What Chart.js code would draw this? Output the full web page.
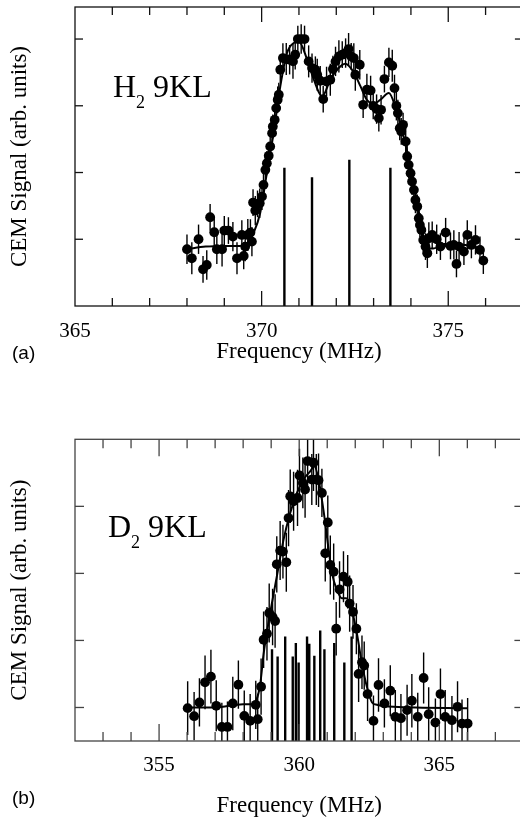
<!DOCTYPE html>
<html>
<head>
<meta charset="utf-8">
<script src="https://cdn.jsdelivr.net/npm/chart.js@4.4.1/dist/chart.umd.min.js"></script>
<style>
  html, body { margin:0; padding:0; background:#fff; overflow:hidden; width:520px; height:827px; }
  canvas { position:absolute; left:0; }
  #ca { top:0; }
  #cb { top:400px; }
  .lbl { position:absolute; font-family:'Liberation Sans', Arial, sans-serif; font-size:19px; color:#000; line-height:1; }
  .mol { position:absolute; font-family:'Liberation Serif', 'Times New Roman', serif; font-size:32px; color:#000; line-height:1; white-space:nowrap; }
  .mol span { font-size:18px; position:relative; top:11px; }
</style>
</head>
<body>
<canvas id="ca" width="540" height="400" style="width:540px;height:400px"></canvas>
<canvas id="cb" width="540" height="427" style="width:540px;height:427px"></canvas>
<div class="mol" style="left:113px; top:70px;">H<span>2</span> 9KL</div>
<div class="mol" style="left:108px; top:510px;">D<span>2</span> 9KL</div>
<div class="lbl" style="left:12px; top:343px;">(a)</div>
<div class="lbl" style="left:12px; top:788px;">(b)</div>
<script>
// ---------- Panel (a): H2 9KL ----------
const freqA = [
 368.00,368.13,368.31,368.43,368.53,368.62,368.73,368.80,368.94,369.00,
 369.11,369.23,369.34,369.47,369.52,369.56,369.63,369.70,369.74,369.77,
 369.83,369.89,369.95,370.01,370.05,370.10,370.14,370.19,370.23,370.28,
 370.30,370.35,370.39,370.43,370.46,370.50,370.57,370.66,370.75,370.84,
 370.90,370.97,371.06,371.15,371.26,371.35,371.44,371.49,371.57,371.65,
 371.74,371.84,371.91,371.98,372.07,372.16,372.25,372.33,372.40,372.47,
 372.51,372.63,372.72,372.82,372.92,372.99,373.08,373.14,373.20,373.29,
 373.41,373.50,373.56,373.61,373.65,373.70,373.74,373.79,373.86,373.90,
 373.94,373.99,374.03,374.08,374.12,374.17,374.21,374.24,374.28,374.33,
 374.39,374.44,374.48,374.57,374.69,374.79,374.93,375.06,375.15,375.22,
 375.29,375.42,375.51,375.62,375.73,375.85,375.94
];
const signalA = [
 0.85,0.715,1.00,0.55,0.615,1.33,1.105,0.85,0.85,1.13,
 1.13,1.04,0.715,1.065,0.75,0.89,1.065,1.10,0.965,1.55,
 1.43,1.53,1.54,1.64,1.815,2.04,2.14,2.25,2.39,2.59,
 2.69,2.79,2.965,3.09,3.165,3.54,3.715,3.70,3.69,3.665,
 3.765,4.00,4.00,4.00,3.665,3.565,3.54,3.465,3.375,3.10,
 3.365,3.39,3.55,3.665,3.74,3.765,3.79,3.85,3.74,3.715,
 3.465,3.615,3.015,3.24,3.23,3.00,2.95,2.815,2.94,3.40,
 3.65,3.60,3.265,3.00,2.89,2.665,2.615,2.715,2.465,2.24,
 2.115,1.99,1.865,1.74,1.59,1.49,1.315,1.215,1.14,0.99,
 0.89,0.79,1.015,1.065,1.00,0.89,1.10,0.90,0.915,0.63,
 0.89,0.815,1.065,0.915,0.99,0.84,0.68
];
const errorA = [
 0.22,0.24,0.22,0.20,0.22,0.20,0.24,0.22,0.26,0.22,
 0.20,0.22,0.24,0.22,0.20,0.22,0.24,0.20,0.22,0.20,
 0.22,0.20,0.22,0.20,0.18,0.20,0.18,0.20,0.18,0.20,
 0.18,0.20,0.18,0.20,0.18,0.20,0.22,0.24,0.22,0.26,
 0.22,0.20,0.22,0.20,0.24,0.22,0.20,0.24,0.22,0.20,
 0.22,0.24,0.20,0.22,0.24,0.20,0.22,0.24,0.20,0.22,
 0.24,0.22,0.20,0.24,0.22,0.20,0.22,0.20,0.22,0.20,
 0.22,0.24,0.20,0.22,0.20,0.18,0.20,0.18,0.20,0.18,
 0.20,0.18,0.20,0.18,0.20,0.18,0.20,0.18,0.20,0.22,
 0.20,0.22,0.24,0.20,0.22,0.20,0.22,0.20,0.22,0.20,
 0.22,0.20,0.22,0.20,0.22,0.20,0.20
];
const fitFreqA = [368.0,368.5,369.0,369.4,369.6,369.78,369.96,370.14,370.32,370.5,370.68,370.86,371.0,371.22,371.4,371.62,371.84,372.02,372.24,372.47,372.65,372.82,373.0,373.18,373.41,373.6,373.8,374.0,374.2,374.4,374.6,374.9,375.3,375.6,375.95];
const fitSignalA = [0.85,0.89,0.90,0.90,0.92,1.09,1.39,1.99,2.59,3.29,3.79,3.94,3.96,3.69,3.39,3.14,3.39,3.54,3.63,3.50,3.29,3.09,3.03,3.09,3.19,2.95,2.55,2.05,1.45,0.87,0.86,0.93,0.92,0.90,0.86];
const stickFreqA = [370.61, 371.35, 372.35, 373.45];
const stickHeightA = [2.07, 1.93, 2.19, 2.07];

// ---------- Panel (b): D2 9KL ----------
const freqB = [
 356.02,356.25,356.44,356.64,356.85,357.04,357.24,357.44,357.63,357.83,
 358.04,358.25,358.45,358.52,358.64,358.73,358.85,358.93,359.05,359.14,
 359.20,359.32,359.42,359.54,359.62,359.68,359.80,359.94,360.01,360.13,
 360.21,360.30,360.45,360.51,360.61,360.69,360.81,360.93,361.02,361.11,
 361.23,361.32,361.44,361.58,361.73,361.80,361.92,362.04,362.12,362.24,
 362.32,362.44,362.65,362.83,363.04,363.25,363.43,363.63,363.85,364.02,
 364.23,364.44,364.62,364.86,365.04,365.21,365.45,365.65,365.81,366.01
];
const signalB = [
 0.99,0.87,1.075,1.375,1.46,1.025,0.71,0.71,1.06,1.34,
 0.875,0.80,1.04,0.825,1.31,2.01,2.10,2.41,2.35,2.29,
 3.135,3.34,3.325,3.165,3.825,4.15,4.075,4.125,4.46,4.35,
 4.25,4.675,4.40,4.65,4.40,4.39,4.20,3.30,3.76,3.125,
 3.025,2.175,2.76,2.95,2.875,2.55,2.425,2.175,1.50,1.675,
 1.625,1.20,0.80,1.335,1.06,1.25,0.86,0.84,0.96,1.10,
 0.86,1.44,0.90,0.775,1.20,0.86,0.81,1.01,0.76,0.76
];
const errorB = [
 0.40,0.36,0.36,0.40,0.40,0.38,0.36,0.38,0.40,0.36,
 0.38,0.40,0.36,0.38,0.42,0.42,0.40,0.44,0.42,0.40,
 0.42,0.44,0.40,0.44,0.42,0.40,0.44,0.42,0.40,0.38,
 0.42,0.40,0.38,0.42,0.38,0.40,0.36,0.42,0.40,0.44,
 0.42,0.40,0.42,0.38,0.40,0.42,0.40,0.38,0.42,0.40,
 0.36,0.40,0.38,0.40,0.36,0.38,0.40,0.36,0.38,0.40,
 0.36,0.38,0.40,0.36,0.38,0.40,0.36,0.38,0.36,0.38
];
const fitFreqB = [356.0,357.0,358.0,358.3,358.46,358.61,358.73,358.96,359.2,359.44,359.68,359.92,360.15,360.39,360.54,360.69,360.81,360.93,361.05,361.17,361.35,361.52,361.68,361.88,362.06,362.24,362.42,362.6,362.77,363.37,366.01];
const fitSignalB = [1.00,1.00,1.05,1.05,1.10,1.35,1.80,2.40,2.95,3.50,3.90,4.20,4.40,4.52,4.60,4.40,4.10,3.75,3.35,3.00,2.75,2.63,2.63,2.45,2.10,1.65,1.30,1.075,1.04,1.01,0.99];
const stickFreqB = [359.03,359.23,359.50,359.77,359.88,359.98,360.28,360.36,360.54,360.75,360.90,361.25,361.61,361.87];
const stickHeightB = [1.87,1.76,2.06,1.76,1.96,1.67,2.06,1.95,1.77,2.15,1.87,1.96,1.67,2.06];

// ---------- helpers ----------
const SERIF = "'Liberation Serif', 'Times New Roman', serif";
function pts(xs, ys) { return xs.map((x, i) => ({ x: x, y: ys[i] })); }
function sticks(xs, hs, base) {
  const out = [];
  xs.forEach((x, i) => { out.push({ x: x, y: base }, { x: x, y: hs[i] }, { x: x, y: null }); });
  return out;
}

const errorBars = {
  id: 'errorBars',
  afterDatasetsDraw(chart) {
    const { ctx, chartArea: a, scales: { x, y } } = chart;
    ctx.save();
    ctx.beginPath(); ctx.rect(a.left, a.top, a.right - a.left, a.bottom - a.top); ctx.clip();
    ctx.strokeStyle = '#000'; ctx.lineWidth = 1.4;
    chart.data.datasets.forEach(ds => {
      if (!ds.errors) return;
      ds.data.forEach((p, j) => {
        const px = x.getPixelForValue(p.x);
        ctx.beginPath();
        ctx.moveTo(px, y.getPixelForValue(p.y - ds.errors[j]));
        ctx.lineTo(px, y.getPixelForValue(p.y + ds.errors[j]));
        ctx.stroke();
      });
    });
    ctx.restore();
  }
};

const frame = {
  id: 'frame',
  afterDraw(chart, args, o) {
    const { ctx, chartArea: a, scales: { x, y } } = chart;
    ctx.save();
    ctx.strokeStyle = o.color; ctx.lineWidth = o.width;
    ctx.strokeRect(a.left, a.top, a.right - a.left, a.bottom - a.top);
    const seg = (x1, y1, x2, y2) => { ctx.beginPath(); ctx.moveTo(x1, y1); ctx.lineTo(x2, y2); ctx.stroke(); };
    x.ticks.forEach(t => {
      const px = x.getPixelForValue(t.value);
      if (px <= a.left + 1 || px >= a.right - 1) return;
      const len = (t.label !== '' && t.label !== undefined) ? o.major : o.minor;
      seg(px, a.bottom, px, a.bottom - len);
      seg(px, a.top, px, a.top + len);
    });
    y.ticks.forEach(t => {
      if (Math.abs(t.value - Math.round(t.value)) > 1e-6) return;
      const py = y.getPixelForValue(t.value);
      if (py <= a.top + 1 || py >= a.bottom - 1) return;
      seg(a.left, py, a.left + o.ytick, py);
      seg(a.right, py, a.right - o.ytick, py);
    });
    ctx.restore();
  }
};

function makeChart(id, cfg) {
  return new Chart(document.getElementById(id), {
    type: 'scatter',
    data: {
      datasets: [
        { label: 'data', data: pts(cfg.fx, cfg.fy), errors: cfg.err, pointRadius: 4.9, pointBackgroundColor: '#000', pointBorderColor: '#000', pointBorderWidth: 0, showLine: false },
        { label: 'fit', data: pts(cfg.cx, cfg.cy), showLine: true, pointRadius: 0, borderColor: '#000', borderWidth: 2, tension: 0.4, cubicInterpolationMode: 'monotone', fill: false },
        { label: 'lines', data: sticks(cfg.sx, cfg.sh, cfg.ymin), showLine: true, spanGaps: false, pointRadius: 0, borderColor: '#000', borderWidth: 2.4, fill: false }
      ]
    },
    options: {
      responsive: false, animation: false, events: [],
      layout: { padding: { top: cfg.padTop, right: cfg.padRight, left: 0, bottom: 0 } },
      plugins: { legend: { display: false }, tooltip: { enabled: false },
        frame: { color: cfg.frameColor, width: 1.3, major: cfg.major, minor: cfg.minor, ytick: cfg.ytick } },
      scales: {
        x: {
          type: 'linear', position: 'bottom', min: cfg.xmin, max: cfg.xmax,
          grid: { display: false, drawTicks: false }, border: { display: false },
          ticks: { stepSize: 1, autoSkip: false, maxRotation: 0, minRotation: 0, padding: cfg.tickPad, color: '#000',
            font: { family: SERIF, size: 21 },
            callback: v => (Math.abs(v - Math.round(v / 5) * 5) < 1e-6 ? String(Math.round(v)) : '') },
          title: { display: true, text: 'Frequency (MHz)', color: '#000', font: { family: SERIF, size: 23 }, padding: { top: 0, bottom: cfg.titlePad } },
          afterFit: s => { s.height = cfg.xh; }
        },
        y: {
          type: 'linear', position: 'left', min: cfg.ymin, max: cfg.ymax,
          grid: { display: false, drawTicks: false }, border: { display: false },
          ticks: { display: false, stepSize: 1 },
          title: { display: true, text: 'CEM Signal (arb. units)', color: '#000', font: { family: SERIF, size: 23 }, padding: { top: 6, bottom: 0 } },
          afterFit: s => { s.width = 75; }
        }
      }
    },
    plugins: [frame, errorBars]
  });
}

makeChart('ca', {
  fx: freqA, fy: signalA, err: errorA, cx: fitFreqA, cy: fitSignalA, sx: stickFreqA, sh: stickHeightA,
  xmin: 365, xmax: 377, ymin: 0, ymax: 4.48,
  padTop: 7, padRight: 17.1, xh: 94, tickPad: 13, titlePad: 34,
  frameColor: '#111', major: 15, minor: 8, ytick: 8
});
makeChart('cb', {
  fx: freqB, fy: signalB, err: errorB, cx: fitFreqB, cy: fitSignalB, sx: stickFreqB, sh: stickHeightB,
  xmin: 352, xmax: 368, ymin: 0.5, ymax: 5,
  padTop: 39.3, padRight: 16.6, xh: 86, tickPad: 12, titlePad: 7,
  frameColor: '#444', major: 17, minor: 9, ytick: 9
});
</script>
</body>
</html>
